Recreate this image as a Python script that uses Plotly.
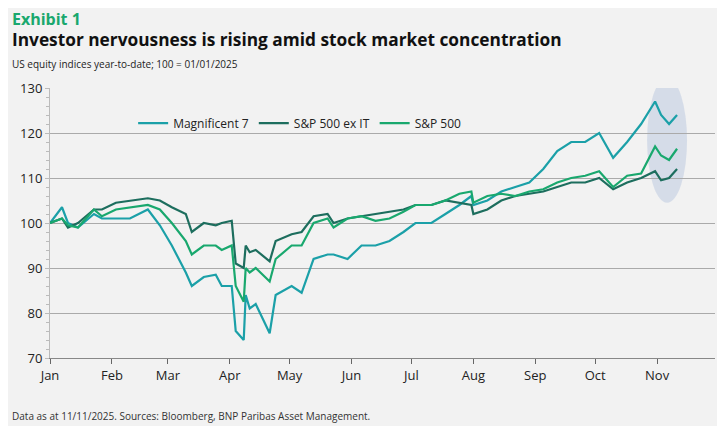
import plotly.graph_objects as go

dates = ["2025-01-01","2025-01-07","2025-01-10","2025-01-15","2025-01-23","2025-01-27","2025-02-03","2025-02-10",
 "2025-02-19","2025-02-25","2025-03-03","2025-03-10","2025-03-13","2025-03-19","2025-03-25","2025-03-28",
 "2025-04-02","2025-04-04","2025-04-08","2025-04-09","2025-04-11","2025-04-14","2025-04-21","2025-04-24",
 "2025-05-02","2025-05-07","2025-05-13","2025-05-20","2025-05-23","2025-05-30","2025-06-06","2025-06-13",
 "2025-06-20","2025-06-27","2025-07-03","2025-07-11","2025-07-18","2025-07-25","2025-07-31","2025-08-01",
 "2025-08-08","2025-08-15","2025-08-22","2025-08-29","2025-09-05","2025-09-12","2025-09-19","2025-09-26",
 "2025-10-03","2025-10-10","2025-10-17","2025-10-24","2025-10-31","2025-11-03","2025-11-07","2025-11-11"]
mag7 = [100,103.5,100,99,102,101,101,101,103,99.5,95,89,86,88,88.5,86,
        86,76,74,84,81,82,75.5,84,86,84.5,92,93,93,92,95,95,
        96,98,100,100,102,104,106,104,105,107,108,109,112,116,118,118,
        120,114.5,118,122,127,124,122,124]
spx_exit = [100,101,99,100,103,103,104.5,105,105.5,105,103.5,102,98,100,99.5,100,
            100.5,91,90,95,93.5,94,91.5,96,97.5,98,101.5,102,100,101,101.5,102,
            102.5,103,104,104,105,104.5,104,102,103,105,106,106.5,107,108,109,109,
            110,107.5,109,110,111.5,109.5,110,112]
spx = [100,101,99.5,99,103,101.5,103,103.5,104,103,100,96,93,95,95,94,
       95,86,82.5,90,89,90,87,92,95,95,100,101,99,101,101.5,100.5,
       101,102.5,104,104,105,106.5,107,104.5,106,106.5,106,107,107.5,109,110,110.5,
       111.5,108,110.5,111,117,115,114,116.5]

names = ["Magnificent 7", "S&P 500 ex IT", "S&P 500"]
colors = ["#1BA0A8", "#1D6E5E", "#19A86E"]
series = [mag7, spx_exit, spx]

fig = go.Figure()
for n, c, s in zip(names, colors, series):
    fig.add_trace(go.Scatter(x=dates, y=s, name=n, mode="lines",
                             line=dict(color=c, width=2.2)))

fig.add_shape(type="circle", xref="x", yref="y", x0="2025-10-27", x1="2025-11-16",
              y0=104.5, y1=132.3, fillcolor="rgba(160,180,215,0.35)", line_width=0, layer="below")

fig.update_layout(
    width=717, height=418, paper_bgcolor="#F2F2F2", plot_bgcolor="#F2F2F2",
    margin=dict(l=42, r=10, t=80, b=68),
    font=dict(family="Open Sans", color="#222"),
    showlegend=True,
    legend=dict(orientation="h", x=0.125, y=0.87, xanchor="left", yanchor="middle",
                bgcolor="rgba(0,0,0,0)", font=dict(size=12)),
    xaxis=dict(type="date", range=["2025-01-01", "2025-11-30"], showgrid=False,
               tickvals=["2025-%02d-01" % m for m in range(1, 12)],
               ticktext=["Jan","Feb","Mar","Apr","May","Jun","Jul","Aug","Sep","Oct","Nov"],
               ticks="outside", ticklen=5, tickcolor="#666", showline=True, linecolor="#888",
               tickfont=dict(size=13)),
    yaxis=dict(range=[70, 130], dtick=10, gridcolor="#AAAAAA", gridwidth=1, zeroline=False,
               showline=True, linecolor="#BBB", ticks="outside", ticklen=4, tickcolor="#BBB",
               tickfont=dict(size=13), minor=dict(dtick=2, ticks="outside", ticklen=3, tickcolor="#BBB")),
)
fig.add_annotation(xref="paper", yref="paper", x=-0.06, y=1.0, yshift=82, xanchor="left", yanchor="top",
                   text="<b>Exhibit 1</b>", showarrow=False, font=dict(size=16, color="#19A86E"))
fig.add_annotation(xref="paper", yref="paper", x=-0.06, y=1.0, yshift=62, xanchor="left", yanchor="top",
                   text="<b>Investor nervousness is rising amid stock market concentration</b>", showarrow=False,
                   font=dict(size=17.3, color="#111"))
fig.add_annotation(xref="paper", yref="paper", x=-0.06, y=1.0, yshift=33, xanchor="left", yanchor="top",
                   text="US equity indices year-to-date; 100 = 01/01/2025", showarrow=False,
                   font=dict(size=10, color="#222"))
fig.add_annotation(xref="paper", yref="paper", x=-0.06, y=0, yshift=-49, xanchor="left", yanchor="top",
                   text="Data as at 11/11/2025. Sources: Bloomberg, BNP Paribas Asset Management.", showarrow=False,
                   font=dict(size=10, color="#333"))
fig.write_html("out.html")
